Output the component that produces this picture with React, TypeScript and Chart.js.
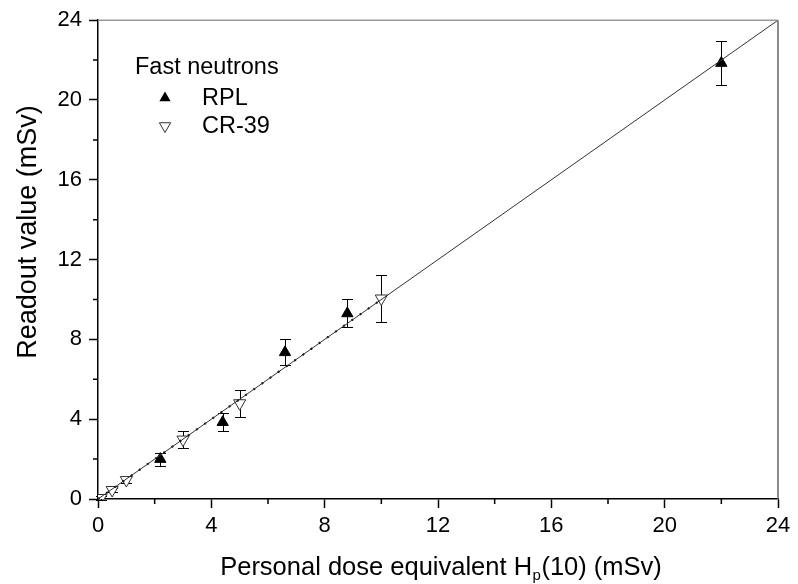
import { useEffect, useRef } from "react";
import { Chart, registerables } from "chart.js";
Chart.register(...registerables);

// Data
const rplDose = [2.2, 4.4, 6.6, 8.8, 22];
const rplReadout = [2.0, 3.85, 7.35, 9.3, 21.85];
const rplError = [0.33, 0.45, 0.65, 0.7, 1.1];

const crDose = [0.1, 0.5, 1, 3, 5, 10];
const crReadout = [0.05, 0.45, 0.95, 2.98, 4.8, 10.05];
const crError = [0.1, 0.12, 0.15, 0.42, 0.67, 1.2];

const fitX = [0, 24];
const fitY = [0, 24];
const dottedX = [0, 10];
const dottedY = [0, 10];

const majorTicks = [0, 4, 8, 12, 16, 20, 24];
const minorTicks = [2, 6, 10, 14, 18, 22];

const legendTitle = "Fast neutrons";
const seriesNames = ["RPL", "CR-39"];
const yTitle = "Readout value (mSv)";
const xTitleMain = "Personal dose equivalent H";
const xTitleSub = "p";
const xTitleTail = "(10) (mSv)";

const FONT = '"Liberation Sans", Arial, sans-serif';

const decorPlugin = {
  id: "decor",
  beforeDatasetsDraw(chart: any) {
    const ctx = chart.ctx;
    const ys = chart.scales.y;
    ctx.save();
    ctx.strokeStyle = "#000";
    ctx.lineWidth = 1;
    chart.data.datasets.forEach((ds: any, i: number) => {
      if (!ds.errors) return;
      const meta = chart.getDatasetMeta(i);
      meta.data.forEach((el: any, j: number) => {
        const v = ds.data[j].y;
        const e = ds.errors[j];
        const x = Math.round(el.x) + 0.5;
        const y1 = Math.round(ys.getPixelForValue(v + e)) + 0.5;
        const y2 = Math.round(ys.getPixelForValue(v - e)) + 0.5;
        ctx.beginPath();
        ctx.moveTo(x, y1);
        ctx.lineTo(x, y2);
        ctx.moveTo(x - 5.5, y1);
        ctx.lineTo(x + 5.5, y1);
        ctx.moveTo(x - 5.5, y2);
        ctx.lineTo(x + 5.5, y2);
        ctx.stroke();
      });
    });
    ctx.restore();
  },
  afterDraw(chart: any) {
    const ctx = chart.ctx;
    const { left, right, top, bottom } = chart.chartArea;
    const xs = chart.scales.x;
    const ys = chart.scales.y;
    ctx.save();
    // top & right frame
    ctx.lineWidth = 1.5;
    ctx.strokeStyle = "#999";
    ctx.beginPath();
    ctx.moveTo(left, top);
    ctx.lineTo(right, top);
    ctx.stroke();
    ctx.strokeStyle = "#666";
    ctx.beginPath();
    ctx.moveTo(right, top);
    ctx.lineTo(right, bottom);
    ctx.stroke();
    // minor ticks
    ctx.strokeStyle = "#000";
    ctx.lineWidth = 1.5;
    ctx.beginPath();
    minorTicks.forEach((t) => {
      const px = xs.getPixelForValue(t);
      ctx.moveTo(px, bottom);
      ctx.lineTo(px, bottom + 5);
      const py = ys.getPixelForValue(t);
      ctx.moveTo(left, py);
      ctx.lineTo(left - 5, py);
    });
    ctx.stroke();

    ctx.fillStyle = "#000";
    // y title
    ctx.save();
    ctx.translate(36, 232);
    ctx.rotate(-Math.PI / 2);
    ctx.font = `27px ${FONT}`;
    ctx.textAlign = "center";
    ctx.textBaseline = "alphabetic";
    ctx.fillText(yTitle, 0, 0);
    ctx.restore();

    // x title with subscript
    ctx.textAlign = "left";
    ctx.textBaseline = "alphabetic";
    const mainFont = `25.5px ${FONT}`;
    const subFont = `15px ${FONT}`;
    ctx.font = mainFont;
    const w1 = ctx.measureText(xTitleMain).width;
    const w3 = ctx.measureText(xTitleTail).width;
    ctx.font = subFont;
    const w2 = ctx.measureText(xTitleSub).width;
    const total = w1 + w2 + w3 + 1;
    let x0 = 441 - total / 2;
    const base = 575;
    ctx.font = mainFont;
    ctx.fillText(xTitleMain, x0, base);
    ctx.font = subFont;
    ctx.fillText(xTitleSub, x0 + w1 + 0.5, base + 5);
    ctx.font = mainFont;
    ctx.fillText(xTitleTail, x0 + w1 + w2 + 1, base);

    // legend
    ctx.font = `23.5px ${FONT}`;
    ctx.fillText(legendTitle, 135, 74);
    ctx.fillText(seriesNames[0], 202, 105);
    ctx.fillText(seriesNames[1], 202, 133);
    ctx.lineWidth = 1;
    const r = 6.5;
    const drawTri = (cx: number, cy: number, up: boolean, fill: boolean) => {
      const s = up ? 1 : -1;
      ctx.beginPath();
      ctx.moveTo(cx, cy - s * r);
      ctx.lineTo(cx + 0.866 * r, cy + s * 0.5 * r);
      ctx.lineTo(cx - 0.866 * r, cy + s * 0.5 * r);
      ctx.closePath();
      if (fill) {
        ctx.fillStyle = "#000";
        ctx.fill();
      } else {
        ctx.fillStyle = "#fff";
        ctx.fill();
        ctx.strokeStyle = "#333";
        ctx.stroke();
      }
    };
    drawTri(165, 98, true, true);
    drawTri(165, 126, false, false);
    ctx.restore();
  },
};

export default function App() {
  const ref = useRef<HTMLCanvasElement | null>(null);
  useEffect(() => {
    document.body.style.margin = "0";
    const canvas = ref.current!;
    const chart = new Chart(canvas, {
      type: "scatter",
      data: {
        datasets: [
          {
            type: "line",
            data: fitX.map((x, i) => ({ x, y: fitY[i] })),
            borderColor: "#333",
            borderWidth: 1,
            pointRadius: 0,
            fill: false,
          } as any,
          {
            type: "line",
            data: dottedX.map((x, i) => ({ x, y: dottedY[i] })),
            borderColor: "#000",
            borderWidth: 2,
            borderDash: [2, 8],
            pointRadius: 0,
            fill: false,
          } as any,
          {
            label: seriesNames[1],
            data: crDose.map((x, i) => ({ x, y: crReadout[i] })),
            errors: crError,
            pointStyle: "triangle",
            rotation: 180,
            pointRadius: 7,
            backgroundColor: "#fff",
            borderColor: "#333",
            borderWidth: 1,
          } as any,
          {
            label: seriesNames[0],
            data: rplDose.map((x, i) => ({ x, y: rplReadout[i] })),
            errors: rplError,
            pointStyle: "triangle",
            pointRadius: 6.5,
            backgroundColor: "#000",
            borderColor: "#000",
            borderWidth: 1,
          } as any,
        ],
      },
      options: {
        responsive: false,
        animation: false,
        events: [],
        layout: { padding: { top: 19, right: 20, left: 0, bottom: 0 } },
        plugins: {
          legend: { display: false },
          tooltip: { enabled: false },
          title: { display: false },
        },
        scales: {
          x: {
            type: "linear",
            min: 0,
            max: 24,
            afterFit: (s: any) => {
              s.height = 85;
            },
            afterBuildTicks: (s: any) => {
              s.ticks = majorTicks.map((v) => ({ value: v }));
            },
            ticks: {
              font: { family: FONT, size: 22 },
              color: "#000",
              padding: 5,
              maxRotation: 0,
              autoSkip: false,
            },
            grid: {
              drawOnChartArea: false,
              drawTicks: true,
              tickLength: 9,
              tickColor: "#000",
              tickWidth: 1.5,
            },
            border: { color: "#000", width: 1.5 },
          },
          y: {
            type: "linear",
            min: 0,
            max: 24,
            afterFit: (s: any) => {
              s.width = 98;
            },
            afterBuildTicks: (s: any) => {
              s.ticks = majorTicks.map((v) => ({ value: v }));
            },
            ticks: {
              font: { family: FONT, size: 22 },
              color: "#000",
              padding: 7,
              autoSkip: false,
            },
            grid: {
              drawOnChartArea: false,
              drawTicks: true,
              tickLength: 9,
              tickColor: "#000",
              tickWidth: 1.5,
            },
            border: { color: "#000", width: 1.5 },
          },
        },
      } as any,
      plugins: [decorPlugin],
    });
    return () => chart.destroy();
  }, []);
  return (
    <div style={{ position: "absolute", left: 0, top: 0, width: 798, height: 584, background: "#fff" }}>
      <canvas ref={ref} width={798} height={584} />
    </div>
  );
}
